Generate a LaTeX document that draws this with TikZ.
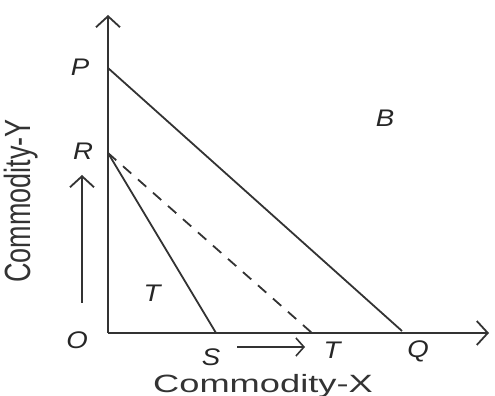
\documentclass[tikz,border=0pt]{standalone}
\usepackage{fontspec}
\setmainfont{Liberation Sans}
\usetikzlibrary{arrows.meta}
\begin{document}
\begin{tikzpicture}[x=1pt,y=1pt,
  ln/.style={line width=1.8pt, draw=black!80},
  axis/.style={ln, -{Straight Barb[length=11pt,width=24pt,line width=1.8pt]}},
  dsh/.style={ln, dash pattern=on 11pt off 9pt},
  lbl/.style={inner sep=0pt, text=black!85, font=\fontsize{24}{24}\selectfont\itshape},
  axl/.style={inner sep=0pt, text=black!80}]
\useasboundingbox (0,0) rectangle (495,396);
% points
\coordinate (O) at (108,63);
\coordinate (Ytop) at (108,381);
\coordinate (Xend) at (489,63);
\coordinate (P) at (108,328);
\coordinate (R) at (108,243);
\coordinate (S) at (216,63);
\coordinate (T) at (312,63);
\coordinate (Q) at (402,65);
\coordinate (a1) at (82,93);
\coordinate (a2) at (82,221);
\coordinate (b1) at (237,49);
\coordinate (b2) at (305,49);
% axes
\draw[axis] (O) -- (Ytop);
\draw[axis] (O) -- (Xend);
% lines
\draw[ln] (P) -- (Q);
\draw[ln] (R) -- (S);
\draw[dsh] (R) -- (T);
% arrows
\draw[axis] (a1) -- (a2);
\draw[ln, -{Straight Barb[length=8pt,width=18pt,line width=1.6pt]}] (b1) -- (b2);
% labels
\node[lbl] (lP) at (80,329) {\scalebox{1.15}[1]{P}};
\node[lbl] (lR) at (83,245) {\scalebox{1.15}[1]{R}};
\node[lbl] (lO) at (77,56) {\scalebox{1.15}[1]{O}};
\node[lbl] (lS) at (211,39) {\scalebox{1.15}[1]{S}};
\node[lbl] (lT) at (332,46) {\scalebox{1.15}[1]{T}};
\node[lbl] (lQ) at (418,45) {\scalebox{1.15}[1]{Q}};
\node[lbl] (lB) at (385,278) {\scalebox{1.15}[1]{B}};
\node[lbl] (lT2) at (152,103) {\scalebox{1.15}[1]{T}};
\node[axl, anchor=base] (cx) at (263,4) {\scalebox{1.45}[1]{\fontsize{25}{25}\selectfont Commodity-X}};
\node[axl] (cy) at (21,195) {\rotatebox{90}{\scalebox{1}[1.35]{\fontsize{27}{27}\selectfont Commodity-Y}}};
\end{tikzpicture}
\end{document}
